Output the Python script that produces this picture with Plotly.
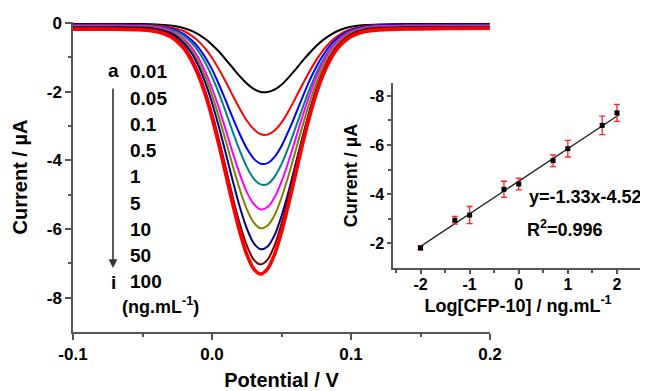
import plotly.graph_objects as go

# page has an 8px body margin: the figure is 640x383 so it fills the 648x391 window
OFF = 8
W, H = 640, 383

# ---------------- data: DPV curves (Potential / V vs Current / uA) ----------------
potential = [-0.1, -0.07, -0.05, -0.04, -0.03, -0.025, -0.02, -0.015, -0.01, -0.005,
             0.0, 0.005, 0.01, 0.015, 0.02, 0.025, 0.03, 0.035, 0.04, 0.045,
             0.05, 0.055, 0.06, 0.065, 0.07, 0.075, 0.08, 0.085, 0.09, 0.095,
             0.1, 0.11, 0.12, 0.14, 0.17, 0.2]

cur_a = [-0.03, -0.03, -0.03, -0.04, -0.07, -0.10, -0.15, -0.22, -0.32, -0.46, -0.63, -0.83, -1.07, -1.31, -1.55, -1.76, -1.92, -2.01, -2.01, -1.94, -1.80, -1.59, -1.36, -1.11, -0.88, -0.67, -0.49, -0.35, -0.24, -0.16, -0.11, -0.06, -0.04, -0.03, -0.03, -0.03]
cur_b = [-0.05, -0.05, -0.06, -0.07, -0.12, -0.17, -0.24, -0.36, -0.52, -0.74, -1.01, -1.35, -1.72, -2.12, -2.50, -2.84, -3.09, -3.24, -3.25, -3.13, -2.90, -2.57, -2.19, -1.80, -1.42, -1.08, -0.79, -0.56, -0.39, -0.26, -0.18, -0.09, -0.06, -0.05, -0.05, -0.05]
cur_c = [-0.06, -0.06, -0.07, -0.09, -0.16, -0.22, -0.33, -0.49, -0.70, -0.99, -1.35, -1.79, -2.27, -2.77, -3.24, -3.65, -3.95, -4.10, -4.08, -3.90, -3.58, -3.15, -2.67, -2.17, -1.69, -1.28, -0.93, -0.65, -0.45, -0.31, -0.21, -0.11, -0.07, -0.06, -0.06, -0.06]
cur_d = [-0.07, -0.07, -0.08, -0.10, -0.18, -0.26, -0.38, -0.56, -0.81, -1.14, -1.56, -2.05, -2.60, -3.18, -3.72, -4.19, -4.53, -4.70, -4.69, -4.48, -4.11, -3.62, -3.06, -2.49, -1.95, -1.47, -1.07, -0.75, -0.52, -0.35, -0.24, -0.13, -0.09, -0.07, -0.07, -0.07]
cur_e = [-0.08, -0.08, -0.09, -0.12, -0.22, -0.32, -0.47, -0.69, -1.00, -1.40, -1.90, -2.48, -3.13, -3.79, -4.40, -4.92, -5.27, -5.43, -5.36, -5.08, -4.62, -4.04, -3.39, -2.73, -2.12, -1.59, -1.15, -0.80, -0.55, -0.37, -0.26, -0.14, -0.10, -0.08, -0.08, -0.08]
cur_f = [-0.10, -0.10, -0.11, -0.15, -0.26, -0.36, -0.53, -0.77, -1.11, -1.55, -2.10, -2.74, -3.45, -4.17, -4.85, -5.42, -5.81, -5.98, -5.90, -5.60, -5.09, -4.45, -3.74, -3.02, -2.34, -1.76, -1.27, -0.90, -0.62, -0.42, -0.29, -0.16, -0.12, -0.10, -0.10, -0.10]
cur_g = [-0.12, -0.12, -0.13, -0.17, -0.29, -0.41, -0.60, -0.86, -1.23, -1.72, -2.32, -3.03, -3.81, -4.61, -5.36, -5.98, -6.41, -6.59, -6.51, -6.18, -5.62, -4.92, -4.13, -3.34, -2.59, -1.94, -1.41, -1.00, -0.69, -0.48, -0.33, -0.19, -0.14, -0.12, -0.12, -0.12]
cur_h = [-0.14, -0.14, -0.16, -0.20, -0.34, -0.48, -0.69, -1.00, -1.41, -1.96, -2.62, -3.39, -4.23, -5.08, -5.85, -6.48, -6.89, -7.03, -6.89, -6.48, -5.85, -5.08, -4.23, -3.39, -2.62, -1.96, -1.41, -1.00, -0.69, -0.48, -0.34, -0.20, -0.16, -0.14, -0.14, -0.14]
cur_i = [-0.18, -0.18, -0.20, -0.25, -0.39, -0.54, -0.75, -1.07, -1.50, -2.06, -2.75, -3.55, -4.42, -5.29, -6.09, -6.74, -7.16, -7.31, -7.16, -6.74, -6.09, -5.29, -4.42, -3.55, -2.75, -2.06, -1.50, -1.07, -0.75, -0.54, -0.39, -0.25, -0.20, -0.17, -0.16, -0.15]

curves = [cur_a, cur_b, cur_c, cur_d, cur_e, cur_f, cur_g, cur_h, cur_i]
curve_colors = ["#000000", "#FF0000", "#0000FF", "#008080", "#FF00FF",
                "#808000", "#000080", "#800000", "#FF0000"]
conc_labels = ["0.01", "0.05", "0.1", "0.5", "1", "5", "10", "50", "100"]

main_xticks = [-0.1, 0.0, 0.1, 0.2]
main_xticklabels = ["-0.1", "0.0", "0.1", "0.2"]
main_yticks = [0, -2, -4, -6, -8]
main_yticklabels = ["0", "-2", "-4", "-6", "-8"]

# ---------------- data: calibration inset ----------------
log_conc = [-2, -1.301, -1, -0.301, 0, 0.699, 1, 1.699, 2]
peak_current = [-1.80, -2.93, -3.14, -4.19, -4.41, -5.36, -5.85, -6.80, -7.31]
peak_err = [0.08, 0.16, 0.35, 0.33, 0.24, 0.24, 0.34, 0.38, 0.35]
fit_slope, fit_intercept = -1.33, -4.52
fit_x = [-2.02, 2.05]
fit_y = [fit_slope * v + fit_intercept for v in fit_x]

ins_xticks = [-2, -1, 0, 1, 2]
ins_xticklabels = ["-2", "-1", "0", "1", "2"]
ins_yticks = [-8, -6, -4, -2]
ins_yticklabels = ["-8", "-6", "-4", "-2"]

# ---------------- figure ----------------
FONT = "Liberation Sans, Arial, sans-serif"
AX = "#555555"

fig = go.Figure()
for k, (ys, col) in enumerate(zip(curves, curve_colors)):
    fig.add_trace(go.Scatter(
        x=potential, y=ys, mode="lines", xaxis="x", yaxis="y",
        line=dict(color=col, width=3.6 if k == len(curves) - 1 else 2.0,
                  shape="spline", smoothing=0.8),
        hoverinfo="skip"))

fig.add_trace(go.Scatter(
    x=fit_x, y=fit_y, mode="lines", xaxis="x2", yaxis="y2",
    line=dict(color="#222222", width=1.3), hoverinfo="skip"))
fig.add_trace(go.Scatter(
    x=log_conc, y=peak_current, mode="markers", xaxis="x2", yaxis="y2",
    marker=dict(symbol="square", size=5, color="black"),
    error_y=dict(type="data", array=peak_err, visible=True,
                 color="#FF2020", thickness=1.3, width=3),
    hoverinfo="skip"))


def px_x(p):
    return (p - OFF) / W


def px_y(p):
    return 1 - (p - OFF) / H


common = dict(showline=True, linecolor=AX, linewidth=1.5, ticks="outside",
              tickwidth=1.5, tickcolor=AX, showgrid=False, zeroline=False,
              mirror=False, automargin=False, tickmode="array")

fig.update_layout(
    width=W, height=H, margin=dict(l=0, r=0, t=0, b=0),
    paper_bgcolor="white", plot_bgcolor="rgba(0,0,0,0)", showlegend=False,
    font=dict(family=FONT, color="black", weight="bold"),
    xaxis=dict(common, domain=[px_x(73), px_x(490)], anchor="y",
               range=[-0.1, 0.2], tickvals=main_xticks, ticktext=main_xticklabels,
               ticklen=6, tickfont=dict(size=17, family=FONT, weight="bold"),
               minor=dict(tickvals=[-0.05, 0.05, 0.15], ticklen=3, ticks="outside",
                          tickcolor=AX, tickwidth=1.5),
               title=dict(text="Potential / V", standoff=14,
                          font=dict(size=20, family=FONT, weight="bold"))),
    yaxis=dict(common, domain=[px_y(332), px_y(22)], anchor="x",
               range=[-9, 0.03], tickvals=main_yticks, ticktext=main_yticklabels,
               ticklen=6, tickfont=dict(size=17, family=FONT, weight="bold"),
               minor=dict(tickvals=[-1, -3, -5, -7], ticklen=3, ticks="outside",
                          tickcolor=AX, tickwidth=1.5),
               title=dict(text="Current / µA", standoff=14,
                          font=dict(size=20, family=FONT, weight="bold"))),
    xaxis2=dict(common, domain=[px_x(393), px_x(643)], anchor="y2",
                range=[-2.56, 2.53], tickvals=ins_xticks, ticktext=ins_xticklabels,
                ticklen=4, ticklabelstandoff=-3,
                tickfont=dict(size=16, family=FONT, weight="bold"),
                minor=dict(tickvals=[-2.5, -1.5, -0.5, 0.5, 1.5, 2.5], ticklen=3,
                           ticks="outside", tickcolor=AX, tickwidth=1.5),
                title=dict(text="Log[CFP-10] / ng.mL<sup>-1</sup>", standoff=6,
                           font=dict(size=18, family=FONT, weight="bold"))),
    yaxis2=dict(common, domain=[px_y(268), px_y(83)], anchor="x2",
                range=[-0.98, -8.53], tickvals=ins_yticks, ticktext=ins_yticklabels,
                ticklen=4, tickfont=dict(size=16, family=FONT, weight="bold"),
                minor=dict(tickvals=[-7, -5, -3], ticklen=3, ticks="outside",
                           tickcolor=AX, tickwidth=1.5),
                title=dict(text="Current / µA", standoff=8,
                           font=dict(size=18, family=FONT, weight="bold"))),
)

ann = []
lab_font = dict(size=19, family=FONT, color="black", weight="bold")
for k, lab in enumerate(conc_labels):
    ann.append(dict(x=px_x(128), y=px_y(72 + 26.2 * k), xref="paper", yref="paper",
                    text=lab, showarrow=False, xanchor="left", yanchor="middle",
                    font=lab_font))
ann.append(dict(x=px_x(113), y=px_y(70), xref="paper", yref="paper", text="a",
                showarrow=False, xanchor="center", yanchor="middle", font=lab_font))
ann.append(dict(x=px_x(113), y=px_y(282), xref="paper", yref="paper", text="i",
                showarrow=False, xanchor="center", yanchor="middle", font=lab_font))
ann.append(dict(x=px_x(120), y=px_y(305), xref="paper", yref="paper",
                text="(ng.mL<sup>-1</sup>)", showarrow=False, xanchor="left",
                yanchor="middle", font=dict(size=18, family=FONT, color="black", weight="bold")))
ann.append(dict(x=px_x(113), y=px_y(268), xref="paper", yref="paper", text=" ",
                showarrow=True, ax=0, ay=-188, axref="pixel", ayref="pixel",
                arrowhead=2, arrowsize=1.1, arrowwidth=1.6, arrowcolor="#333333",
                standoff=0, startstandoff=0))
ann.append(dict(x=px_x(527), y=px_y(197), xref="paper", yref="paper",
                text=f"y={fit_slope:.2f}x{fit_intercept:.2f}", showarrow=False,
                xanchor="left", yanchor="middle",
                font=dict(size=18, family=FONT, color="black", weight="bold")))
ann.append(dict(x=px_x(525), y=px_y(228), xref="paper", yref="paper",
                text="R<sup>2</sup>=0.996", showarrow=False,
                xanchor="left", yanchor="middle",
                font=dict(size=18, family=FONT, color="black", weight="bold")))
fig.update_layout(annotations=ann)

fig.write_html("out.html")
